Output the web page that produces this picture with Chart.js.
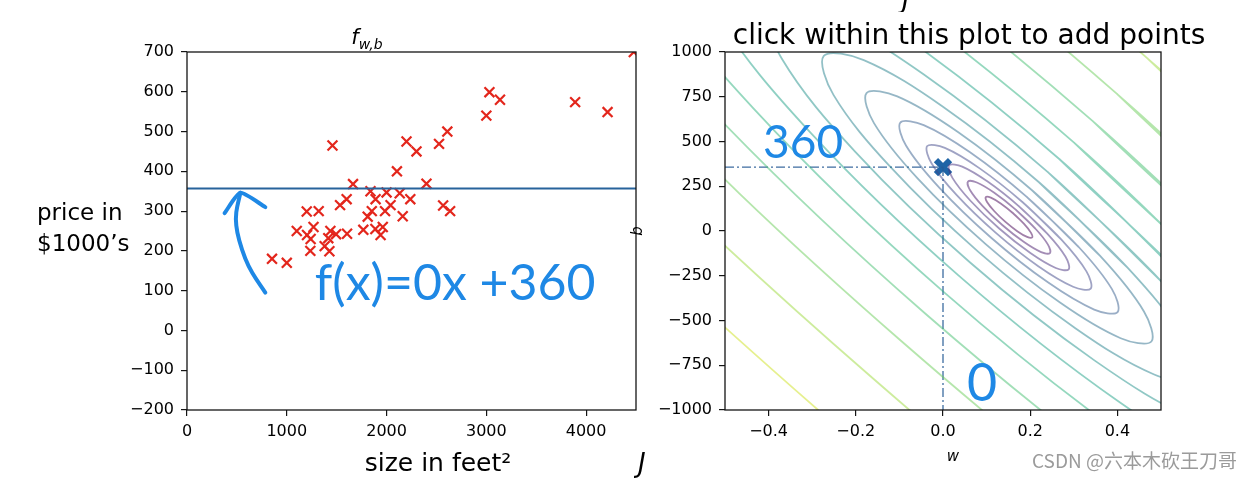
<!DOCTYPE html>
<html><head><meta charset="utf-8">
<script src="https://cdn.jsdelivr.net/npm/chart.js@4.4.1/dist/chart.umd.min.js"></script>
<style>
html,body{margin:0;padding:0;background:#fff;}
body{width:1260px;height:478px;position:relative;overflow:hidden;font-family:"DejaVu Sans",sans-serif;color:#000;}
canvas{position:absolute;left:0;top:0;}
.t{position:absolute;white-space:nowrap;line-height:1;}
.c{transform:translate(-50%,-50%);}
.clip{position:absolute;overflow:hidden;}
</style></head><body>
<canvas id="left" width="1260" height="478" style="width:1260px;height:478px"></canvas>
<canvas id="right" width="1260" height="478" style="width:1260px;height:478px"></canvas>

<div class="t c" style="left:367px;top:37px;font-size:21px;"><i>f</i><span style="font-size:14px;font-style:italic;position:relative;top:5px;">w,b</span></div>
<div class="t c" style="left:969px;top:35px;font-size:28px;">click within this plot to add points</div>
<div class="t" style="left:37px;top:197px;font-size:23px;line-height:31px;">price in<br>$1000’s</div>
<div class="t c" style="left:438px;top:462px;font-size:25px;">size in feet²</div>
<div class="t c" style="left:953px;top:456px;font-size:15px;font-style:italic;">w</div>
<div class="t c" style="left:637px;top:231px;font-size:15px;font-style:italic;transform:translate(-50%,-50%) rotate(-90deg);">b</div>
<div class="clip" style="left:634px;top:448px;width:19px;height:30px;"><div class="t" style="left:4px;top:2px;font-size:26px;font-style:italic;">J</div></div>
<div class="clip" style="left:898px;top:0px;width:20px;height:12px;"><div class="t" style="left:4px;top:-14px;font-size:26px;font-style:italic;">J</div></div>
<div class="t" style="left:1032px;top:450px;font-size:19px;font-family:'Noto Sans CJK SC',sans-serif;color:#9b9b9b;">CSDN @六本木砍王刀哥</div>

<script>
// ---------------- data ----------------
const houseSize  = [2104,1600,2400,1416,3000,1985,1534,1427,1380,1494,1940,2000,1890,4478,1268,2300,1320,1236,2609,3031,1767,1888,1604,1962,3890,1100,1458,2526,2200,2637,1839,1000,2040,3137,1811,1437,1239,2132,4215,2162,1664,2238,2567,1200,852,1852,1203];
const housePrice = [400,330,369,232,540,300,315,199,212,242,240,347,330,700,260,450,300,200,500,599,253,255,243,260,574,250,465,469,475,300,350,170,315,580,286,250,230,345,549,287,368,330,314,299,180,300,240];

const modelW = 0;
const modelB = 357;

const leftXTicks = [0,1000,2000,3000,4000];
const leftXTickLabels = ['0','1000','2000','3000','4000'];
const leftYTicks = [-200,-100,0,100,200,300,400,500,600,700];
const leftYTickLabels = ['−200','−100','0','100','200','300','400','500','600','700'];
const rightXTicks = [-0.4,-0.2,0,0.2,0.4];
const rightXTickLabels = ['−0.4','−0.2','0.0','0.2','0.4'];
const rightYTicks = [-1000,-750,-500,-250,0,250,500,750,1000];
const rightYTickLabels = ['−1000','−750','−500','−250','0','250','500','750','1000'];

// cost contours J(w,b) (w, b)
const contour0 = [[0.2044,-36.2],[0.2016,-8.9],[0.1854,41.2],[0.1600,100.8],[0.1323,153.9],[0.1097,186.2],[0.0982,189.2],[0.1010,161.9],[0.1173,111.8],[0.1426,52.2],[0.1703,-0.9],[0.1929,-33.2]];
const contour1 = [[0.2453,-123.2],[0.2404,-74.9],[0.2116,13.9],[0.1667,119.5],[0.1176,213.6],[0.0776,270.9],[0.0573,276.2],[0.0622,227.9],[0.0910,139.1],[0.1359,33.5],[0.1850,-60.6],[0.2250,-117.9]];
const contour2 = [[0.2882,-214.2],[0.2811,-143.9],[0.2391,-14.6],[0.1737,139.1],[0.1023,276.1],[0.0440,359.6],[0.0144,367.2],[0.0216,296.9],[0.0635,167.6],[0.1289,13.9],[0.2004,-123.1],[0.2587,-206.6]];
const contour3 = [[0.3388,-321.7],[0.3290,-225.5],[0.2716,-48.3],[0.1820,162.3],[0.0841,349.9],[0.0042,464.3],[-0.0362,474.7],[-0.0264,378.5],[0.0310,201.3],[0.1206,-9.3],[0.2185,-196.9],[0.2984,-311.3]];
const contour4 = [[0.4005,-452.8],[0.3875,-324.8],[0.3112,-89.4],[0.1921,190.6],[0.0620,439.9],[-0.0442,591.9],[-0.0979,605.8],[-0.0849,477.8],[-0.0086,242.4],[0.1105,-37.6],[0.2406,-286.9],[0.3468,-438.9]];
const contour5 = [[0.4780,-617.2],[0.4609,-449.5],[0.3609,-140.9],[0.2048,226.0],[0.0343,552.8],[-0.1049,752.0],[-0.1754,770.2],[-0.1583,602.5],[-0.0583,293.9],[0.0979,-73.0],[0.2684,-399.8],[0.4075,-599.0]];
const contour6 = [[0.5760,-825.3],[0.5538,-607.3],[0.4238,-206.1],[0.2208,270.8],[-0.0009,695.7],[-0.1817,954.7],[-0.2734,978.3],[-0.2512,760.3],[-0.1212,359.1],[0.0818,-117.8],[0.3035,-542.7],[0.4843,-801.7]];
const contour7 = [[0.7004,-1089.6],[0.6718,-807.7],[0.5037,-289.0],[0.2412,327.8],[-0.0455,877.1],[-0.2793,1212.0],[-0.3978,1242.6],[-0.3692,960.7],[-0.2011,442.0],[0.0615,-174.8],[0.3481,-724.1],[0.5819,-1059.0]];
const contour8 = [[0.8599,-1428.4],[0.8230,-1064.6],[0.6060,-395.1],[0.2673,400.8],[-0.1026,1109.7],[-0.4044,1541.9],[-0.5573,1581.4],[-0.5204,1217.6],[-0.3034,548.1],[0.0354,-247.8],[0.4052,-956.7],[0.7070,-1388.9]];
const contour9 = [[1.0639,-1861.5],[1.0163,-1393.0],[0.7369,-530.9],[0.3006,494.1],[-0.1757,1407.1],[-0.5644,1963.6],[-0.7613,2014.5],[-0.7137,1546.0],[-0.4343,683.9],[0.0020,-341.1],[0.4783,-1254.1],[0.8670,-1810.6]];
const contour10 = [[1.3258,-2417.5],[1.2645,-1814.6],[0.9049,-705.1],[0.3435,613.9],[-0.2695,1788.9],[-0.7697,2505.1],[-1.0232,2570.5],[-0.9619,1967.6],[-0.6023,858.1],[-0.0409,-460.9],[0.5721,-1635.9],[1.0723,-2352.1]];
const contour11 = [[1.6616,-3130.7],[1.5828,-2355.4],[1.1204,-928.6],[0.3984,767.6],[-0.3898,2278.6],[-1.0331,3199.6],[-1.3590,3283.7],[-1.2802,2508.4],[-0.8178,1081.6],[-0.0958,-614.6],[0.6924,-2125.6],[1.3357,-3046.6]];
const contour12 = [[2.0921,-4045.0],[1.9908,-3048.6],[1.3967,-1215.2],[0.4689,964.6],[-0.5441,2906.3],[-1.3707,4089.9],[-1.7895,4198.0],[-1.6882,3201.6],[-1.0941,1368.2],[-0.1663,-811.6],[0.8467,-2753.3],[1.6733,-3936.9]];
const contour13 = [[2.6430,-5214.8],[2.5129,-3935.6],[1.7502,-1581.8],[0.5590,1216.7],[-0.7415,3709.5],[-1.8026,5228.9],[-2.3404,5367.8],[-2.2103,4088.6],[-1.4476,1734.8],[-0.2564,-1063.7],[1.0441,-3556.5],[2.1052,-5075.9]];

// hand-drawn annotations (data coordinates)
const arrowShaft = [[535,346],[494,297],[494,264],[524,226],[584,181],[654,145],[785,95]];
const arrowHead  = [[377,295],[535,346],[785,310]];
const leftNotes  = [{x:2688, y:118, text:'f(x)=0x +360'}];
const rightNotes = [{x:-0.321, y:490, text:'360'},{x:0.0894, y:-856, text:'0'}];

// ---------------- styles ----------------
const contourColors = ['rgba(68,1,84,A)','rgba(72,26,108,A)','rgba(70,48,126,A)','rgba(63,72,137,A)','rgba(54,93,141,A)','rgba(45,112,142,A)','rgba(38,130,142,A)','rgba(33,145,140,A)','rgba(31,162,135,A)','rgba(44,177,126,A)','rgba(70,192,111,A)','rgba(108,205,90,A)','rgba(155,217,60,A)','rgba(205,225,29,A)'].map(c=>c.replace('A','0.5'));
const inkBlue = '#1e88e5';
const FONT = 'DejaVu Sans';

Chart.defaults.font.family = FONT;
Chart.defaults.font.size = 16;
Chart.defaults.color = '#000';

const toXY = arr => arr.map(p => ({x:p[0], y:p[1]}));
const loopFrom = (arr, s) => { const out=[]; for (let i=0;i<=arr.length+1;i++) out.push(arr[(s+i)%arr.length]); return out; };

const framePlugin = {
  id:'frame',
  afterDatasetsDraw(chart){
    const {ctx, chartArea:a} = chart;
    ctx.save(); ctx.strokeStyle='#151515'; ctx.lineWidth=1.3;
    ctx.strokeRect(a.left, a.top, a.right-a.left, a.bottom-a.top);
    ctx.restore();
  }
};
function notesPlugin(notes, fontSpec){
  return {
    id:'notes',
    afterDraw(chart){
      const {ctx} = chart; const xs = chart.scales.x, ys = chart.scales.y;
      ctx.save(); ctx.fillStyle = inkBlue; ctx.textAlign='center'; ctx.textBaseline='middle';
      notes.forEach((n,i) => { ctx.font = fontSpec[i] || fontSpec[0]; ctx.fillText(n.text, xs.getPixelForValue(n.x), ys.getPixelForValue(n.y)); });
      ctx.restore();
    }
  };
}
function axisOpts(min, max, ticks, labels, fit, pad){
  return {
    type:'linear', min, max,
    afterBuildTicks: ax => { ax.ticks = ticks.map(v => ({value:v})); },
    afterFit: fit,
    ticks:{ callback:(v,i)=>labels[i], padding:pad, autoSkip:false, maxRotation:0, color:'#000', font:{size:16} },
    grid:{ drawOnChartArea:false, drawTicks:true, tickLength:6, color:'#151515', lineWidth:1.2 },
    border:{ display:false }
  };
}
const common = { responsive:false, animation:false, events:[], devicePixelRatio:1,
  plugins:{ legend:{display:false}, tooltip:{enabled:false} } };

// ---------------- left chart ----------------
new Chart(document.getElementById('left'), {
  type:'scatter',
  data:{ datasets:[
    { type:'line', data:[{x:0,y:modelW*0+modelB},{x:4500,y:modelW*4500+modelB}], borderColor:'#27639b', borderWidth:2, pointRadius:0, clip:0 },
    { data: houseSize.map((x,i)=>({x, y:housePrice[i]})), pointStyle:'crossRot', pointRadius:7, pointBorderWidth:2.2, borderColor:'#e3261c', backgroundColor:'#e3261c', clip:0 },
    { type:'line', data: toXY(arrowShaft), borderColor:inkBlue, borderWidth:4, tension:0.4, pointRadius:0, borderCapStyle:'round', capBezierPoints:false, clip:false },
    { type:'line', data: toXY(arrowHead), borderColor:inkBlue, borderWidth:4, tension:0.2, pointRadius:0, borderCapStyle:'round', borderJoinStyle:'round', clip:false }
  ]},
  options:{ ...common,
    layout:{ padding:{ left:0, top:52, right:1260-636, bottom:0 } },
    scales:{
      x: axisOpts(0, 4500, leftXTicks, leftXTickLabels, ax => { ax.height = 68; }, 6),
      y: axisOpts(-200, 700, leftYTicks, leftYTickLabels, ax => { ax.width = 187; }, 7)
    }
  },
  plugins:[framePlugin, notesPlugin(leftNotes, ['50px Lato'])]
});

// ---------------- right chart ----------------
const contours = [contour0,contour1,contour2,contour3,contour4,contour5,contour6,contour7,contour8,contour9,contour10,contour11,contour12,contour13];
const chosen = {w:0, b:357};
const rightSets = contours.map((c,k) => ({
  type:'line', data: toXY(loopFrom(c,2)), borderColor: contourColors[k], borderWidth:1.8,
  tension:0.35, pointRadius:0, capBezierPoints:false, clip:0
}));
rightSets.push({ type:'line', data:[{x:-0.5,y:chosen.b},{x:chosen.w,y:chosen.b}], borderColor:'rgba(40,92,150,0.9)', borderWidth:1.3, borderDash:[9,3,2,3], pointRadius:0, clip:0 });
rightSets.push({ type:'line', data:[{x:chosen.w,y:chosen.b},{x:chosen.w,y:-1000}], borderColor:'rgba(40,92,150,0.9)', borderWidth:1.3, borderDash:[9,3,2,3], pointRadius:0, clip:0 });
rightSets.push({ data:[{x:chosen.w,y:chosen.b}], pointStyle:'crossRot', pointRadius:10, pointBorderWidth:6, borderColor:'#1f64a6', backgroundColor:'#1f64a6', clip:false });

new Chart(document.getElementById('right'), {
  type:'scatter',
  data:{ datasets: rightSets },
  options:{ ...common,
    layout:{ padding:{ left:0, top:52, right:99, bottom:0 } },
    scales:{
      x: axisOpts(-0.5, 0.5, rightXTicks, rightXTickLabels, ax => { ax.height = 68; }, 6),
      y: axisOpts(-1000, 1000, rightYTicks, rightYTickLabels, ax => { ax.width = 725; }, 7)
    }
  },
  plugins:[framePlugin, notesPlugin(rightNotes, ['46px Lato','52px Lato'])]
});
</script>
</body></html>
